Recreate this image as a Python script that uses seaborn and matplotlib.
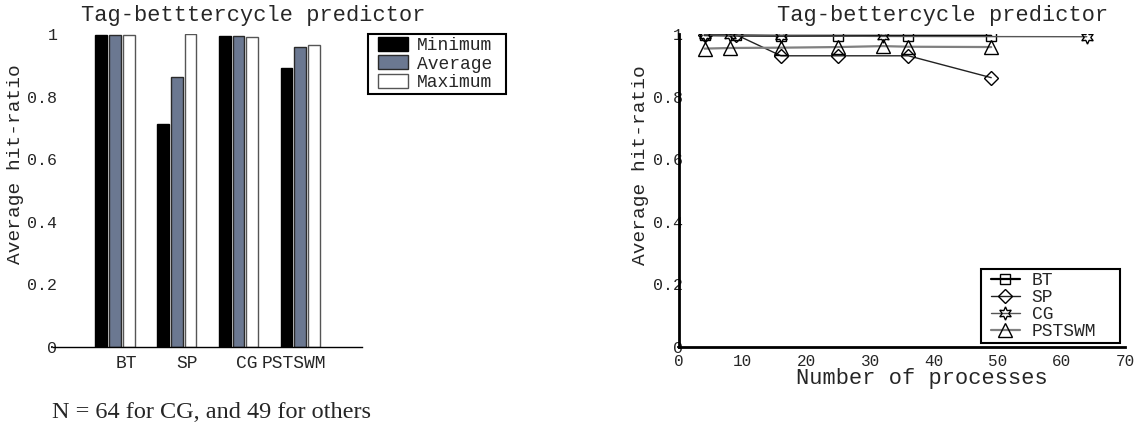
import matplotlib
matplotlib.use("Agg")
import matplotlib.pyplot as plt
import numpy as np
import pandas as pd
import seaborn as sns
from matplotlib.container import BarContainer
from matplotlib.lines import Line2D
from matplotlib.legend_handler import (HandlerPatch, HandlerLine2D,
                                       update_from_first_child)

# ---- data -------------------------------------------------------------
benchmarks = ["BT", "SP", "CG", "PSTSWM"]
stat_names = ["Minimum", "Average", "Maximum"]
hit_min = [0.996, 0.713, 0.993, 0.893]
hit_avg = [0.996, 0.862, 0.993, 0.959]
hit_max = [0.996, 1.000, 0.992, 0.964]

bt_procs = [4, 9, 16, 25, 36, 49]
bt_hit = [0.997, 0.996, 0.995, 0.995, 0.995, 0.995]
sp_procs = [4, 9, 16, 25, 36, 49]
sp_hit = [0.998, 0.998, 0.931, 0.931, 0.931, 0.861]
cg_procs = [4, 8, 16, 32, 64]
cg_hit = [0.998, 0.996, 0.995, 0.993, 0.992]
ps_procs = [4, 8, 16, 25, 32, 36, 49]
ps_hit = [0.954, 0.956, 0.957, 0.959, 0.962, 0.960, 0.959]

yticks = [0, 0.2, 0.4, 0.6, 0.8, 1.0]
ytick_labels = ["0", "0.2", "0.4", "0.6", "0.8", "1"]
xticks_right = [0, 10, 20, 30, 40, 50, 60, 70]

title_left = "Tag-betttercycle predictor"
title_right = "Tag-bettercycle predictor"
ylabel = "Average hit-ratio"
xlabel = "Number of processes"
note = "N = 64 for CG, and 49 for others"

# ---- style ------------------------------------------------------------
sns.set_style("white")
plt.rcParams["font.family"] = ["Liberation Mono", "DejaVu Sans Mono"]
plt.rcParams["axes.edgecolor"] = "black"

fig = plt.figure(figsize=(11.38, 4.28), dpi=100)
ax1 = fig.add_axes([0.0468, 0.19, 0.2713, 0.730])
ax2 = fig.add_axes([0.5967, 0.19, 0.3919, 0.730])

# ---- left: grouped bars -----------------------------------------------
bars = pd.DataFrame({
    "benchmark": np.repeat(benchmarks, 3),
    "stat": stat_names * len(benchmarks),
    "value": np.ravel(np.column_stack([hit_min, hit_avg, hit_max])),
})
fills = {"Minimum": "black", "Average": "#6b7891", "Maximum": "white"}
edges = ["black", "#2a2a2a", "#555555"]
sns.barplot(data=bars, x="benchmark", y="value", hue="stat",
            hue_order=stat_names, order=benchmarks, palette=fills,
            width=0.667, gap=0.15, saturation=1, legend=False,
            linewidth=1.0, ax=ax1)
for cont, ec in zip(ax1.containers, edges):
    for patch in cont:
        patch.set_edgecolor(ec)

ax1.set_xlim(-1, 4)
ax1.set_ylim(0, 1)
ax1.set_yticks(yticks)
ax1.set_yticklabels(ytick_labels, fontsize=12)
label_shift = [0.19, 0.17, 0.14, -0.10]
ax1.set_xticks(np.arange(len(benchmarks)) + np.array(label_shift))
ax1.set_xticklabels(benchmarks, fontsize=13)
ax1.tick_params(axis="x", length=0, pad=6)
ax1.tick_params(axis="y", direction="in", length=4, width=1, pad=-3)
for side in ["top", "right", "left"]:
    ax1.spines[side].set_visible(False)
ax1.spines["bottom"].set_linewidth(1.0)
ax1.set_xlabel("")
ax1.set_ylabel(ylabel, fontsize=14)
ax1.yaxis.label.set(ha="center", va="center")
ax1.yaxis.set_label_coords(-0.121, 0.583)
ax1.set_title(title_left, x=0.647, y=1.0595, va="center", pad=0, fontsize=15.8)

# legend: inset swatches, tight rows, box stretched to a fixed width
leg1 = ax1.legend(ax1.containers, stat_names, loc="upper left",
                  bbox_to_anchor=(1.0185, 0.8, 0.447, 0.2), mode="expand",
                  borderaxespad=0, fontsize=13, handlelength=2.07,
                  handleheight=0.8, handletextpad=0.52, labelspacing=0.07,
                  borderpad=0.15, fancybox=False, framealpha=1,
                  edgecolor="black",
                  handler_map={BarContainer: HandlerPatch(
                      xpad=0.4, update_func=update_from_first_child)})
leg1.get_frame().set_linewidth(1.5)

# ---- right: hit-ratio vs process count --------------------------------
hexagram = (6, 1, 0)
series = [
    ("BT", bt_procs, bt_hit, "s", "black", 1.6, 7.5),
    ("SP", sp_procs, sp_hit, "D", "#222222", 1.0, 7),
    ("CG", cg_procs, cg_hit, hexagram, "#555555", 1.0, 9.5),
    ("PSTSWM", ps_procs, ps_hit, "^", "#808080", 1.6, 9.5),
]
for name, xs, ys, mk, col, lw, ms in series:
    sns.lineplot(x=xs, y=ys, ax=ax2, label=name, color=col, linewidth=lw,
                 marker=mk, markersize=ms, markerfacecolor="none",
                 markeredgecolor="black", markeredgewidth=1.0)

ax2.set_xlim(0, 70)
ax2.set_ylim(0, 1)
ax2.set_xticks(xticks_right)
ax2.set_xticklabels([str(v) for v in xticks_right], fontsize=11.5)
ax2.set_yticks(yticks)
ax2.set_yticklabels(ytick_labels, fontsize=12)
ax2.tick_params(axis="x", direction="in", length=4, width=1.5, pad=5)
ax2.tick_params(axis="y", direction="in", length=4, width=1.5, pad=-3)
for side in ["top", "right"]:
    ax2.spines[side].set_visible(False)
for side in ["left", "bottom"]:
    ax2.spines[side].set_linewidth(2.0)
ax2.set_xlabel(xlabel, fontsize=15.8)
ax2.xaxis.label.set(ha="center", va="center")
ax2.xaxis.set_label_coords(0.545, -0.101)
ax2.set_ylabel(ylabel, fontsize=14)
ax2.yaxis.label.set(ha="center", va="center")
ax2.yaxis.set_label_coords(-0.087, 0.582)
ax2.set_title(title_right, x=0.591, y=1.0595, va="center", pad=0, fontsize=15.8)

handles, labels = ax2.get_legend_handles_labels()
leg2 = ax2.legend(handles, labels, loc="lower left",
                  bbox_to_anchor=(0.677, 0.013, 0.3117, 0.2), mode="expand",
                  borderaxespad=0, fontsize=13, handlelength=2.01,
                  handletextpad=0.65, labelspacing=0.0, borderpad=0.15,
                  fancybox=False, framealpha=1, edgecolor="black",
                  handler_map={Line2D: HandlerLine2D(xpad=0.4)})
leg2.get_frame().set_linewidth(1.5)

fig.text(52 / 1138, 1 - 413 / 428, note, fontsize=17.5,
         family="Liberation Serif", ha="left", va="center")

fig.savefig("out.png", dpi=100)
